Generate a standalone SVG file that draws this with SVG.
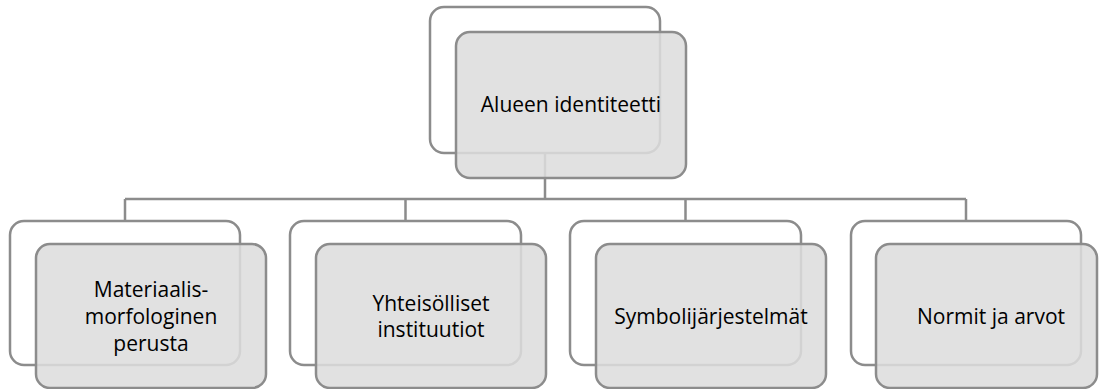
<svg xmlns="http://www.w3.org/2000/svg" width="1099" height="389" viewBox="0 0 1099 389">
<style>
.back{fill:#ffffff;stroke:#8c8c8c;stroke-width:2.5}
.front{fill:#dcdcdc;fill-opacity:0.87;stroke:#8c8c8c;stroke-width:2.5}
.conn{fill:none;stroke:#8c8c8c;stroke-width:2.5}
.lbl{font-family:"Open Sans","Noto Sans",sans-serif;font-size:21px;fill:#000000;text-anchor:middle}
</style>
<rect width="1099" height="389" fill="#ffffff"/>
<g id="connectors">
<path class="conn" d="M545 153 V199 M125 199 H966 M125 199 V221 M405.5 199 V221 M685.5 199 V221 M966 199 V221"/>
</g>
<g id="node-top">
<rect class="back" x="430" y="7" width="230" height="146" rx="14"/>
<rect class="front" x="456" y="32" width="230" height="146" rx="14"/>
<text class="lbl" x="571" y="112">Alueen identiteetti</text>
</g>
<g id="node-1">
<rect class="back" x="10" y="221" width="230" height="144" rx="14"/>
<rect class="front" x="36" y="244" width="230" height="144" rx="14"/>
<text class="lbl" x="151" y="297">Materiaalis-</text>
<text class="lbl" x="151" y="324">morfologinen</text>
<text class="lbl" x="151" y="351">perusta</text>
</g>
<g id="node-2">
<rect class="back" x="290" y="221" width="231" height="144" rx="14"/>
<rect class="front" x="316" y="244" width="230" height="144" rx="14"/>
<text class="lbl" x="431" y="311">Yhteisölliset</text>
<text class="lbl" x="431" y="337">instituutiot</text>
</g>
<g id="node-3">
<rect class="back" x="570" y="221" width="231" height="144" rx="14"/>
<rect class="front" x="596" y="244" width="230" height="144" rx="14"/>
<text class="lbl" x="711" y="324">Symbolijärjestelmät</text>
</g>
<g id="node-4">
<rect class="back" x="851" y="221" width="230" height="144" rx="14"/>
<rect class="front" x="876" y="244" width="221" height="144" rx="14"/>
<text class="lbl" x="991" y="324">Normit ja arvot</text>
</g>
</svg>
